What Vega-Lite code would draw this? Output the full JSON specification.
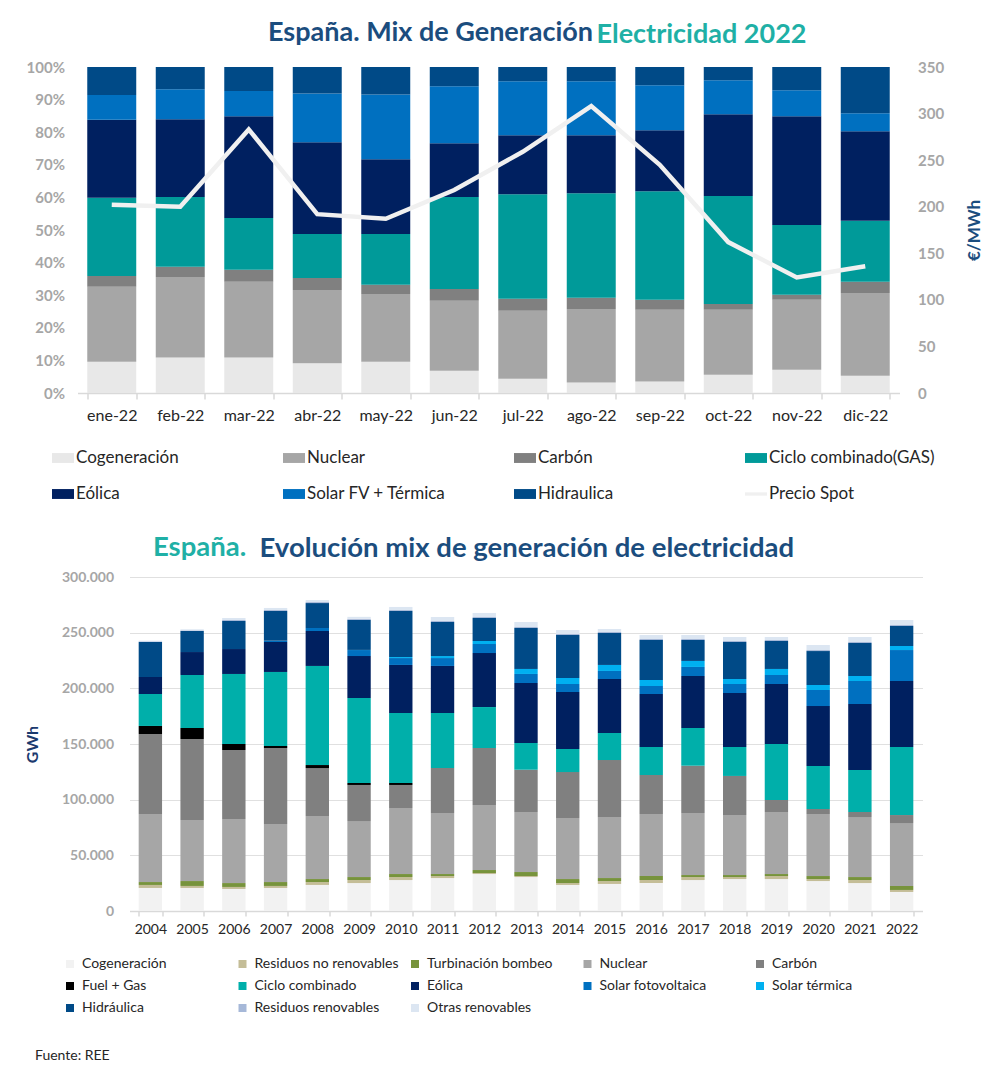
{
  "$schema": "https://vega.github.io/schema/vega-lite/v6.json",
  "background": "white",
  "padding": {"left": 0, "top": 19, "right": 0, "bottom": 0},
  "config": {
    "view": {"stroke": null},
    "font": "Lato",
    "axis": {"labelFont": "Lato", "titleFont": "Lato"},
    "legend": {"labelFont": "Lato", "titleFont": "Lato"},
    "title": {"font": "Lato"}
  },
  "datasets": {
    "orden_mensual": [
      {"fuente": "Cogeneración", "n": 1},
      {"fuente": "Nuclear", "n": 2},
      {"fuente": "Carbón", "n": 3},
      {"fuente": "Ciclo combinado(GAS)", "n": 4},
      {"fuente": "Eólica", "n": 5},
      {"fuente": "Solar FV + Térmica", "n": 6},
      {"fuente": "Hidraulica", "n": 7}
    ],
    "orden_anual": [
      {"tecnologia": "Cogeneración", "n": 1},
      {"tecnologia": "Residuos no renovables", "n": 2},
      {"tecnologia": "Turbinación bombeo", "n": 3},
      {"tecnologia": "Nuclear", "n": 4},
      {"tecnologia": "Carbón", "n": 5},
      {"tecnologia": "Fuel + Gas", "n": 6},
      {"tecnologia": "Ciclo combinado", "n": 7},
      {"tecnologia": "Eólica", "n": 8},
      {"tecnologia": "Solar fotovoltaica", "n": 9},
      {"tecnologia": "Solar térmica", "n": 10},
      {"tecnologia": "Hidráulica", "n": 11},
      {"tecnologia": "Residuos renovables", "n": 12},
      {"tecnologia": "Otras renovables", "n": 13}
    ],
    "mensual": [
      {"mes": "ene-22", "fuente": "Cogeneración", "pct": 9.6},
      {"mes": "ene-22", "fuente": "Nuclear", "pct": 23.0},
      {"mes": "ene-22", "fuente": "Carbón", "pct": 3.3},
      {"mes": "ene-22", "fuente": "Ciclo combinado(GAS)", "pct": 24.0},
      {"mes": "ene-22", "fuente": "Eólica", "pct": 23.9},
      {"mes": "ene-22", "fuente": "Solar FV + Térmica", "pct": 7.6},
      {"mes": "ene-22", "fuente": "Hidraulica", "pct": 8.6},
      {"mes": "feb-22", "fuente": "Cogeneración", "pct": 10.9},
      {"mes": "feb-22", "fuente": "Nuclear", "pct": 24.7},
      {"mes": "feb-22", "fuente": "Carbón", "pct": 3.1},
      {"mes": "feb-22", "fuente": "Ciclo combinado(GAS)", "pct": 21.4},
      {"mes": "feb-22", "fuente": "Eólica", "pct": 23.9},
      {"mes": "feb-22", "fuente": "Solar FV + Térmica", "pct": 9.2},
      {"mes": "feb-22", "fuente": "Hidraulica", "pct": 6.8},
      {"mes": "mar-22", "fuente": "Cogeneración", "pct": 10.9},
      {"mes": "mar-22", "fuente": "Nuclear", "pct": 23.2},
      {"mes": "mar-22", "fuente": "Carbón", "pct": 3.7},
      {"mes": "mar-22", "fuente": "Ciclo combinado(GAS)", "pct": 15.9},
      {"mes": "mar-22", "fuente": "Eólica", "pct": 31.2},
      {"mes": "mar-22", "fuente": "Solar FV + Térmica", "pct": 7.7},
      {"mes": "mar-22", "fuente": "Hidraulica", "pct": 7.4},
      {"mes": "abr-22", "fuente": "Cogeneración", "pct": 9.1},
      {"mes": "abr-22", "fuente": "Nuclear", "pct": 22.5},
      {"mes": "abr-22", "fuente": "Carbón", "pct": 3.7},
      {"mes": "abr-22", "fuente": "Ciclo combinado(GAS)", "pct": 13.5},
      {"mes": "abr-22", "fuente": "Eólica", "pct": 28.1},
      {"mes": "abr-22", "fuente": "Solar FV + Térmica", "pct": 15.0},
      {"mes": "abr-22", "fuente": "Hidraulica", "pct": 8.1},
      {"mes": "may-22", "fuente": "Cogeneración", "pct": 9.6},
      {"mes": "may-22", "fuente": "Nuclear", "pct": 20.8},
      {"mes": "may-22", "fuente": "Carbón", "pct": 2.8},
      {"mes": "may-22", "fuente": "Ciclo combinado(GAS)", "pct": 15.6},
      {"mes": "may-22", "fuente": "Eólica", "pct": 22.9},
      {"mes": "may-22", "fuente": "Solar FV + Térmica", "pct": 19.9},
      {"mes": "may-22", "fuente": "Hidraulica", "pct": 8.4},
      {"mes": "jun-22", "fuente": "Cogeneración", "pct": 6.8},
      {"mes": "jun-22", "fuente": "Nuclear", "pct": 21.5},
      {"mes": "jun-22", "fuente": "Carbón", "pct": 3.6},
      {"mes": "jun-22", "fuente": "Ciclo combinado(GAS)", "pct": 28.2},
      {"mes": "jun-22", "fuente": "Eólica", "pct": 16.5},
      {"mes": "jun-22", "fuente": "Solar FV + Térmica", "pct": 17.5},
      {"mes": "jun-22", "fuente": "Hidraulica", "pct": 5.9},
      {"mes": "jul-22", "fuente": "Cogeneración", "pct": 4.4},
      {"mes": "jul-22", "fuente": "Nuclear", "pct": 20.8},
      {"mes": "jul-22", "fuente": "Carbón", "pct": 3.7},
      {"mes": "jul-22", "fuente": "Ciclo combinado(GAS)", "pct": 32.1},
      {"mes": "jul-22", "fuente": "Eólica", "pct": 18.1},
      {"mes": "jul-22", "fuente": "Solar FV + Térmica", "pct": 16.5},
      {"mes": "jul-22", "fuente": "Hidraulica", "pct": 4.4},
      {"mes": "ago-22", "fuente": "Cogeneración", "pct": 3.2},
      {"mes": "ago-22", "fuente": "Nuclear", "pct": 22.6},
      {"mes": "ago-22", "fuente": "Carbón", "pct": 3.4},
      {"mes": "ago-22", "fuente": "Ciclo combinado(GAS)", "pct": 32.1},
      {"mes": "ago-22", "fuente": "Eólica", "pct": 17.8},
      {"mes": "ago-22", "fuente": "Solar FV + Térmica", "pct": 16.5},
      {"mes": "ago-22", "fuente": "Hidraulica", "pct": 4.4},
      {"mes": "sep-22", "fuente": "Cogeneración", "pct": 3.5},
      {"mes": "sep-22", "fuente": "Nuclear", "pct": 22.0},
      {"mes": "sep-22", "fuente": "Carbón", "pct": 3.1},
      {"mes": "sep-22", "fuente": "Ciclo combinado(GAS)", "pct": 33.3},
      {"mes": "sep-22", "fuente": "Eólica", "pct": 18.7},
      {"mes": "sep-22", "fuente": "Solar FV + Térmica", "pct": 13.8},
      {"mes": "sep-22", "fuente": "Hidraulica", "pct": 5.6},
      {"mes": "oct-22", "fuente": "Cogeneración", "pct": 5.6},
      {"mes": "oct-22", "fuente": "Nuclear", "pct": 19.9},
      {"mes": "oct-22", "fuente": "Carbón", "pct": 1.8},
      {"mes": "oct-22", "fuente": "Ciclo combinado(GAS)", "pct": 33.1},
      {"mes": "oct-22", "fuente": "Eólica", "pct": 25.1},
      {"mes": "oct-22", "fuente": "Solar FV + Térmica", "pct": 10.4},
      {"mes": "oct-22", "fuente": "Hidraulica", "pct": 4.1},
      {"mes": "nov-22", "fuente": "Cogeneración", "pct": 7.1},
      {"mes": "nov-22", "fuente": "Nuclear", "pct": 21.5},
      {"mes": "nov-22", "fuente": "Carbón", "pct": 1.5},
      {"mes": "nov-22", "fuente": "Ciclo combinado(GAS)", "pct": 21.4},
      {"mes": "nov-22", "fuente": "Eólica", "pct": 33.4},
      {"mes": "nov-22", "fuente": "Solar FV + Térmica", "pct": 8.0},
      {"mes": "nov-22", "fuente": "Hidraulica", "pct": 7.1},
      {"mes": "dic-22", "fuente": "Cogeneración", "pct": 5.3},
      {"mes": "dic-22", "fuente": "Nuclear", "pct": 25.4},
      {"mes": "dic-22", "fuente": "Carbón", "pct": 3.4},
      {"mes": "dic-22", "fuente": "Ciclo combinado(GAS)", "pct": 18.7},
      {"mes": "dic-22", "fuente": "Eólica", "pct": 27.5},
      {"mes": "dic-22", "fuente": "Solar FV + Térmica", "pct": 5.5},
      {"mes": "dic-22", "fuente": "Hidraulica", "pct": 14.2}
    ],
    "precio": [
      {"mes": "ene-22", "precio": 202},
      {"mes": "feb-22", "precio": 200},
      {"mes": "mar-22", "precio": 283},
      {"mes": "abr-22", "precio": 192},
      {"mes": "may-22", "precio": 187},
      {"mes": "jun-22", "precio": 218},
      {"mes": "jul-22", "precio": 259},
      {"mes": "ago-22", "precio": 308},
      {"mes": "sep-22", "precio": 245},
      {"mes": "oct-22", "precio": 162},
      {"mes": "nov-22", "precio": 124},
      {"mes": "dic-22", "precio": 136}
    ],
    "anual": [
      {"año": "2004", "tecnologia": "Cogeneración", "gwh": 20700},
      {"año": "2004", "tecnologia": "Residuos no renovables", "gwh": 2700},
      {"año": "2004", "tecnologia": "Turbinación bombeo", "gwh": 2600},
      {"año": "2004", "tecnologia": "Nuclear", "gwh": 61100},
      {"año": "2004", "tecnologia": "Carbón", "gwh": 71900},
      {"año": "2004", "tecnologia": "Fuel + Gas", "gwh": 7200},
      {"año": "2004", "tecnologia": "Ciclo combinado", "gwh": 28700},
      {"año": "2004", "tecnologia": "Eólica", "gwh": 15300},
      {"año": "2004", "tecnologia": "Hidráulica", "gwh": 31400},
      {"año": "2004", "tecnologia": "Residuos renovables", "gwh": 600},
      {"año": "2004", "tecnologia": "Otras renovables", "gwh": 600},
      {"año": "2005", "tecnologia": "Cogeneración", "gwh": 20700},
      {"año": "2005", "tecnologia": "Residuos no renovables", "gwh": 1800},
      {"año": "2005", "tecnologia": "Turbinación bombeo", "gwh": 4400},
      {"año": "2005", "tecnologia": "Nuclear", "gwh": 54800},
      {"año": "2005", "tecnologia": "Carbón", "gwh": 72800},
      {"año": "2005", "tecnologia": "Fuel + Gas", "gwh": 9900},
      {"año": "2005", "tecnologia": "Ciclo combinado", "gwh": 47600},
      {"año": "2005", "tecnologia": "Eólica", "gwh": 20600},
      {"año": "2005", "tecnologia": "Hidráulica", "gwh": 18900},
      {"año": "2005", "tecnologia": "Residuos renovables", "gwh": 600},
      {"año": "2005", "tecnologia": "Otras renovables", "gwh": 900},
      {"año": "2006", "tecnologia": "Cogeneración", "gwh": 19800},
      {"año": "2006", "tecnologia": "Residuos no renovables", "gwh": 1800},
      {"año": "2006", "tecnologia": "Turbinación bombeo", "gwh": 3500},
      {"año": "2006", "tecnologia": "Nuclear", "gwh": 57500},
      {"año": "2006", "tecnologia": "Carbón", "gwh": 62000},
      {"año": "2006", "tecnologia": "Fuel + Gas", "gwh": 5400},
      {"año": "2006", "tecnologia": "Ciclo combinado", "gwh": 62900},
      {"año": "2006", "tecnologia": "Eólica", "gwh": 22400},
      {"año": "2006", "tecnologia": "Hidráulica", "gwh": 25200},
      {"año": "2006", "tecnologia": "Residuos renovables", "gwh": 900},
      {"año": "2006", "tecnologia": "Otras renovables", "gwh": 1800},
      {"año": "2007", "tecnologia": "Cogeneración", "gwh": 20700},
      {"año": "2007", "tecnologia": "Residuos no renovables", "gwh": 1800},
      {"año": "2007", "tecnologia": "Turbinación bombeo", "gwh": 3500},
      {"año": "2007", "tecnologia": "Nuclear", "gwh": 52100},
      {"año": "2007", "tecnologia": "Carbón", "gwh": 68300},
      {"año": "2007", "tecnologia": "Fuel + Gas", "gwh": 1800},
      {"año": "2007", "tecnologia": "Ciclo combinado", "gwh": 66500},
      {"año": "2007", "tecnologia": "Eólica", "gwh": 26900},
      {"año": "2007", "tecnologia": "Solar fotovoltaica", "gwh": 1200},
      {"año": "2007", "tecnologia": "Hidráulica", "gwh": 26700},
      {"año": "2007", "tecnologia": "Residuos renovables", "gwh": 900},
      {"año": "2007", "tecnologia": "Otras renovables", "gwh": 1800},
      {"año": "2008", "tecnologia": "Cogeneración", "gwh": 23400},
      {"año": "2008", "tecnologia": "Residuos no renovables", "gwh": 2600},
      {"año": "2008", "tecnologia": "Turbinación bombeo", "gwh": 2700},
      {"año": "2008", "tecnologia": "Nuclear", "gwh": 56600},
      {"año": "2008", "tecnologia": "Carbón", "gwh": 43100},
      {"año": "2008", "tecnologia": "Fuel + Gas", "gwh": 2700},
      {"año": "2008", "tecnologia": "Ciclo combinado", "gwh": 89000},
      {"año": "2008", "tecnologia": "Eólica", "gwh": 31400},
      {"año": "2008", "tecnologia": "Solar fotovoltaica", "gwh": 2700},
      {"año": "2008", "tecnologia": "Hidráulica", "gwh": 22400},
      {"año": "2008", "tecnologia": "Residuos renovables", "gwh": 900},
      {"año": "2008", "tecnologia": "Otras renovables", "gwh": 1800},
      {"año": "2009", "tecnologia": "Cogeneración", "gwh": 25100},
      {"año": "2009", "tecnologia": "Residuos no renovables", "gwh": 2700},
      {"año": "2009", "tecnologia": "Turbinación bombeo", "gwh": 2700},
      {"año": "2009", "tecnologia": "Nuclear", "gwh": 50300},
      {"año": "2009", "tecnologia": "Carbón", "gwh": 32400},
      {"año": "2009", "tecnologia": "Fuel + Gas", "gwh": 1800},
      {"año": "2009", "tecnologia": "Ciclo combinado", "gwh": 76300},
      {"año": "2009", "tecnologia": "Eólica", "gwh": 37700},
      {"año": "2009", "tecnologia": "Solar fotovoltaica", "gwh": 5400},
      {"año": "2009", "tecnologia": "Solar térmica", "gwh": 100},
      {"año": "2009", "tecnologia": "Hidráulica", "gwh": 27000},
      {"año": "2009", "tecnologia": "Residuos renovables", "gwh": 900},
      {"año": "2009", "tecnologia": "Otras renovables", "gwh": 1800},
      {"año": "2010", "tecnologia": "Cogeneración", "gwh": 27800},
      {"año": "2010", "tecnologia": "Residuos no renovables", "gwh": 2700},
      {"año": "2010", "tecnologia": "Turbinación bombeo", "gwh": 2700},
      {"año": "2010", "tecnologia": "Nuclear", "gwh": 59300},
      {"año": "2010", "tecnologia": "Carbón", "gwh": 20700},
      {"año": "2010", "tecnologia": "Fuel + Gas", "gwh": 1800},
      {"año": "2010", "tecnologia": "Ciclo combinado", "gwh": 62800},
      {"año": "2010", "tecnologia": "Eólica", "gwh": 43200},
      {"año": "2010", "tecnologia": "Solar fotovoltaica", "gwh": 6200},
      {"año": "2010", "tecnologia": "Solar térmica", "gwh": 900},
      {"año": "2010", "tecnologia": "Hidráulica", "gwh": 41400},
      {"año": "2010", "tecnologia": "Residuos renovables", "gwh": 900},
      {"año": "2010", "tecnologia": "Otras renovables", "gwh": 2700},
      {"año": "2011", "tecnologia": "Cogeneración", "gwh": 29600},
      {"año": "2011", "tecnologia": "Residuos no renovables", "gwh": 1800},
      {"año": "2011", "tecnologia": "Turbinación bombeo", "gwh": 1800},
      {"año": "2011", "tecnologia": "Nuclear", "gwh": 54800},
      {"año": "2011", "tecnologia": "Carbón", "gwh": 40400},
      {"año": "2011", "tecnologia": "Ciclo combinado", "gwh": 49400},
      {"año": "2011", "tecnologia": "Eólica", "gwh": 42300},
      {"año": "2011", "tecnologia": "Solar fotovoltaica", "gwh": 7100},
      {"año": "2011", "tecnologia": "Solar térmica", "gwh": 1800},
      {"año": "2011", "tecnologia": "Hidráulica", "gwh": 30600},
      {"año": "2011", "tecnologia": "Residuos renovables", "gwh": 900},
      {"año": "2011", "tecnologia": "Otras renovables", "gwh": 3600},
      {"año": "2012", "tecnologia": "Cogeneración", "gwh": 33200},
      {"año": "2012", "tecnologia": "Residuos no renovables", "gwh": 900},
      {"año": "2012", "tecnologia": "Turbinación bombeo", "gwh": 2700},
      {"año": "2012", "tecnologia": "Nuclear", "gwh": 58400},
      {"año": "2012", "tecnologia": "Carbón", "gwh": 51200},
      {"año": "2012", "tecnologia": "Ciclo combinado", "gwh": 36800},
      {"año": "2012", "tecnologia": "Eólica", "gwh": 48500},
      {"año": "2012", "tecnologia": "Solar fotovoltaica", "gwh": 8100},
      {"año": "2012", "tecnologia": "Solar térmica", "gwh": 2700},
      {"año": "2012", "tecnologia": "Hidráulica", "gwh": 20700},
      {"año": "2012", "tecnologia": "Residuos renovables", "gwh": 900},
      {"año": "2012", "tecnologia": "Otras renovables", "gwh": 3600},
      {"año": "2013", "tecnologia": "Cogeneración", "gwh": 30500},
      {"año": "2013", "tecnologia": "Residuos no renovables", "gwh": 900},
      {"año": "2013", "tecnologia": "Turbinación bombeo", "gwh": 3600},
      {"año": "2013", "tecnologia": "Nuclear", "gwh": 53900},
      {"año": "2013", "tecnologia": "Carbón", "gwh": 38000},
      {"año": "2013", "tecnologia": "Ciclo combinado", "gwh": 24000},
      {"año": "2013", "tecnologia": "Eólica", "gwh": 53900},
      {"año": "2013", "tecnologia": "Solar fotovoltaica", "gwh": 8100},
      {"año": "2013", "tecnologia": "Solar térmica", "gwh": 4500},
      {"año": "2013", "tecnologia": "Hidráulica", "gwh": 36800},
      {"año": "2013", "tecnologia": "Residuos renovables", "gwh": 900},
      {"año": "2013", "tecnologia": "Otras renovables", "gwh": 4500},
      {"año": "2014", "tecnologia": "Cogeneración", "gwh": 23400},
      {"año": "2014", "tecnologia": "Residuos no renovables", "gwh": 1700},
      {"año": "2014", "tecnologia": "Turbinación bombeo", "gwh": 3600},
      {"año": "2014", "tecnologia": "Nuclear", "gwh": 54800},
      {"año": "2014", "tecnologia": "Carbón", "gwh": 41300},
      {"año": "2014", "tecnologia": "Ciclo combinado", "gwh": 20700},
      {"año": "2014", "tecnologia": "Eólica", "gwh": 51200},
      {"año": "2014", "tecnologia": "Solar fotovoltaica", "gwh": 7200},
      {"año": "2014", "tecnologia": "Solar térmica", "gwh": 5400},
      {"año": "2014", "tecnologia": "Hidráulica", "gwh": 38600},
      {"año": "2014", "tecnologia": "Residuos renovables", "gwh": 900},
      {"año": "2014", "tecnologia": "Otras renovables", "gwh": 3600},
      {"año": "2015", "tecnologia": "Cogeneración", "gwh": 24300},
      {"año": "2015", "tecnologia": "Residuos no renovables", "gwh": 2600},
      {"año": "2015", "tecnologia": "Turbinación bombeo", "gwh": 2700},
      {"año": "2015", "tecnologia": "Nuclear", "gwh": 54800},
      {"año": "2015", "tecnologia": "Carbón", "gwh": 51200},
      {"año": "2015", "tecnologia": "Ciclo combinado", "gwh": 24300},
      {"año": "2015", "tecnologia": "Eólica", "gwh": 48500},
      {"año": "2015", "tecnologia": "Solar fotovoltaica", "gwh": 7200},
      {"año": "2015", "tecnologia": "Solar térmica", "gwh": 5400},
      {"año": "2015", "tecnologia": "Hidráulica", "gwh": 28700},
      {"año": "2015", "tecnologia": "Residuos renovables", "gwh": 900},
      {"año": "2015", "tecnologia": "Otras renovables", "gwh": 2700},
      {"año": "2016", "tecnologia": "Cogeneración", "gwh": 25100},
      {"año": "2016", "tecnologia": "Residuos no renovables", "gwh": 2700},
      {"año": "2016", "tecnologia": "Turbinación bombeo", "gwh": 3600},
      {"año": "2016", "tecnologia": "Nuclear", "gwh": 55700},
      {"año": "2016", "tecnologia": "Carbón", "gwh": 35100},
      {"año": "2016", "tecnologia": "Ciclo combinado", "gwh": 25100},
      {"año": "2016", "tecnologia": "Eólica", "gwh": 47600},
      {"año": "2016", "tecnologia": "Solar fotovoltaica", "gwh": 7200},
      {"año": "2016", "tecnologia": "Solar térmica", "gwh": 5400},
      {"año": "2016", "tecnologia": "Hidráulica", "gwh": 35900},
      {"año": "2016", "tecnologia": "Residuos renovables", "gwh": 900},
      {"año": "2016", "tecnologia": "Otras renovables", "gwh": 3600},
      {"año": "2017", "tecnologia": "Cogeneración", "gwh": 27800},
      {"año": "2017", "tecnologia": "Residuos no renovables", "gwh": 2700},
      {"año": "2017", "tecnologia": "Turbinación bombeo", "gwh": 1800},
      {"año": "2017", "tecnologia": "Nuclear", "gwh": 55700},
      {"año": "2017", "tecnologia": "Carbón", "gwh": 42500},
      {"año": "2017", "tecnologia": "Ciclo combinado", "gwh": 33900},
      {"año": "2017", "tecnologia": "Eólica", "gwh": 46700},
      {"año": "2017", "tecnologia": "Solar fotovoltaica", "gwh": 8100},
      {"año": "2017", "tecnologia": "Solar térmica", "gwh": 5400},
      {"año": "2017", "tecnologia": "Hidráulica", "gwh": 18800},
      {"año": "2017", "tecnologia": "Residuos renovables", "gwh": 900},
      {"año": "2017", "tecnologia": "Otras renovables", "gwh": 3600},
      {"año": "2018", "tecnologia": "Cogeneración", "gwh": 28700},
      {"año": "2018", "tecnologia": "Residuos no renovables", "gwh": 1800},
      {"año": "2018", "tecnologia": "Turbinación bombeo", "gwh": 1800},
      {"año": "2018", "tecnologia": "Nuclear", "gwh": 53900},
      {"año": "2018", "tecnologia": "Carbón", "gwh": 35100},
      {"año": "2018", "tecnologia": "Ciclo combinado", "gwh": 26000},
      {"año": "2018", "tecnologia": "Eólica", "gwh": 48500},
      {"año": "2018", "tecnologia": "Solar fotovoltaica", "gwh": 8100},
      {"año": "2018", "tecnologia": "Solar térmica", "gwh": 4500},
      {"año": "2018", "tecnologia": "Hidráulica", "gwh": 33200},
      {"año": "2018", "tecnologia": "Residuos renovables", "gwh": 900},
      {"año": "2018", "tecnologia": "Otras renovables", "gwh": 3600},
      {"año": "2019", "tecnologia": "Cogeneración", "gwh": 28700},
      {"año": "2019", "tecnologia": "Residuos no renovables", "gwh": 2700},
      {"año": "2019", "tecnologia": "Turbinación bombeo", "gwh": 1800},
      {"año": "2019", "tecnologia": "Nuclear", "gwh": 55700},
      {"año": "2019", "tecnologia": "Carbón", "gwh": 10800},
      {"año": "2019", "tecnologia": "Ciclo combinado", "gwh": 50300},
      {"año": "2019", "tecnologia": "Eólica", "gwh": 53900},
      {"año": "2019", "tecnologia": "Solar fotovoltaica", "gwh": 8100},
      {"año": "2019", "tecnologia": "Solar térmica", "gwh": 5400},
      {"año": "2019", "tecnologia": "Hidráulica", "gwh": 25100},
      {"año": "2019", "tecnologia": "Residuos renovables", "gwh": 900},
      {"año": "2019", "tecnologia": "Otras renovables", "gwh": 2700},
      {"año": "2020", "tecnologia": "Cogeneración", "gwh": 26900},
      {"año": "2020", "tecnologia": "Residuos no renovables", "gwh": 1800},
      {"año": "2020", "tecnologia": "Turbinación bombeo", "gwh": 2700},
      {"año": "2020", "tecnologia": "Nuclear", "gwh": 55700},
      {"año": "2020", "tecnologia": "Carbón", "gwh": 4500},
      {"año": "2020", "tecnologia": "Ciclo combinado", "gwh": 38600},
      {"año": "2020", "tecnologia": "Eólica", "gwh": 53900},
      {"año": "2020", "tecnologia": "Solar fotovoltaica", "gwh": 14400},
      {"año": "2020", "tecnologia": "Solar térmica", "gwh": 4500},
      {"año": "2020", "tecnologia": "Hidráulica", "gwh": 30500},
      {"año": "2020", "tecnologia": "Residuos renovables", "gwh": 900},
      {"año": "2020", "tecnologia": "Otras renovables", "gwh": 4500},
      {"año": "2021", "tecnologia": "Cogeneración", "gwh": 25100},
      {"año": "2021", "tecnologia": "Residuos no renovables", "gwh": 2700},
      {"año": "2021", "tecnologia": "Turbinación bombeo", "gwh": 2700},
      {"año": "2021", "tecnologia": "Nuclear", "gwh": 53900},
      {"año": "2021", "tecnologia": "Carbón", "gwh": 4500},
      {"año": "2021", "tecnologia": "Ciclo combinado", "gwh": 37700},
      {"año": "2021", "tecnologia": "Eólica", "gwh": 59300},
      {"año": "2021", "tecnologia": "Solar fotovoltaica", "gwh": 20700},
      {"año": "2021", "tecnologia": "Solar térmica", "gwh": 4500},
      {"año": "2021", "tecnologia": "Hidráulica", "gwh": 29600},
      {"año": "2021", "tecnologia": "Residuos renovables", "gwh": 900},
      {"año": "2021", "tecnologia": "Otras renovables", "gwh": 4500},
      {"año": "2022", "tecnologia": "Cogeneración", "gwh": 17100},
      {"año": "2022", "tecnologia": "Residuos no renovables", "gwh": 1800},
      {"año": "2022", "tecnologia": "Turbinación bombeo", "gwh": 3600},
      {"año": "2022", "tecnologia": "Nuclear", "gwh": 56500},
      {"año": "2022", "tecnologia": "Carbón", "gwh": 7200},
      {"año": "2022", "tecnologia": "Ciclo combinado", "gwh": 61100},
      {"año": "2022", "tecnologia": "Eólica", "gwh": 59300},
      {"año": "2022", "tecnologia": "Solar fotovoltaica", "gwh": 27800},
      {"año": "2022", "tecnologia": "Solar térmica", "gwh": 3600},
      {"año": "2022", "tecnologia": "Hidráulica", "gwh": 18000},
      {"año": "2022", "tecnologia": "Residuos renovables", "gwh": 900},
      {"año": "2022", "tecnologia": "Otras renovables", "gwh": 4500}
    ]
  },
  "title": {"text": "Fuente: REE", "orient": "bottom", "anchor": "start", "frame": "group", "dx": 35, "offset": 34, "fontSize": 14, "fontWeight": "normal", "color": "#262626"},
  "spacing": 31,
  "resolve": {"scale": {"color": "independent"}, "legend": {"color": "independent"}},
  "vconcat": [
    {
      "title": {"text": "España. Mix de Generación", "anchor": "start", "frame": "group", "dx": 268, "dy": 26, "offset": 0, "fontSize": 27, "fontWeight": "bold", "color": "#1b4d7e"},
      "spacing": 23.5,
      "hconcat": [
        {"width": 2, "height": 2, "data": {"values": [{"s": 0}]}, "mark": {"type": "point", "opacity": 0, "size": 1}},
        {
          "width": 822,
          "height": 326,
          "title": {"text": "Electricidad 2022", "anchor": "start", "frame": "group", "dx": 519, "offset": 11, "fontSize": 27, "fontWeight": "bold", "color": "#1fb0a6"},
          "resolve": {"scale": {"y": "independent"}},
          "layer": [
            {
              "data": {"name": "mensual"},
              "transform": [{"lookup": "fuente", "from": {"data": {"name": "orden_mensual"}, "key": "fuente", "fields": ["n"]}}],
              "mark": {"type": "bar"},
              "encoding": {
                "x": {"field": "mes", "type": "ordinal", "sort": ["ene-22","feb-22","mar-22","abr-22","may-22","jun-22","jul-22","ago-22","sep-22","oct-22","nov-22","dic-22"],
                  "scale": {"paddingInner": 0.285, "paddingOuter": 0.1425},
                  "axis": {"title": null, "labelAngle": 0, "labelFontSize": 16, "labelColor": "#262626", "labelPadding": 8, "domainColor": "#d9d9d9", "domainWidth": 1.5, "tickColor": "#d9d9d9", "tickWidth": 1.5, "tickSize": 6, "tickBand": "extent"}},
                "y": {"field": "pct", "type": "quantitative", "stack": "normalize",
                  "axis": {"title": null, "values": [0,0.1,0.2,0.3,0.4,0.5,0.6,0.7,0.8,0.9,1], "format": ".0%", "grid": false, "domain": false, "ticks": false, "labelColor": "#a6a6a6", "labelFontWeight": "bold", "labelFontSize": 15, "labelPadding": 13}},
                "order": {"field": "n", "type": "quantitative", "sort": "ascending"},
                "color": {"field": "fuente", "type": "nominal",
                  "scale": {"domain": ["Cogeneración","Nuclear","Carbón","Ciclo combinado(GAS)","Eólica","Solar FV + Térmica","Hidraulica","Precio Spot"],
                            "range": ["#e8e8e8","#a6a6a6","#808080","#009a99","#002060","#0070c0","#004a87","#f0f0f0"]},
                  "legend": {"title": null, "orient": "none", "legendX": 52, "legendY": 380, "columns": 4, "direction": "horizontal", "gridAlign": "all", "columnPadding": 41, "rowPadding": 17, "labelLimit": 300,
                    "labelFontSize": 17, "labelColor": "#262626", "labelOffset": 2, "symbolSize": 484, "symbolType": "M-1,-0.45H1V0.45H-1Z", "symbolStrokeWidth": 0,
                    "encode": {"symbols": {"update": {"shape": {"signal": "datum.value === 'Precio Spot' ? 'M-1,-0.15H1V0.15H-1Z' : 'M-1,-0.45H1V0.45H-1Z'"}, "fill": {"scale": "color", "field": "value"}, "strokeWidth": {"value": 0}, "opacity": {"value": 1}}}}}}
              }
            },
            {
              "data": {"name": "precio"},
              "mark": {"type": "line", "strokeWidth": 4.5},
              "encoding": {
                "x": {"field": "mes", "type": "ordinal", "sort": ["ene-22","feb-22","mar-22","abr-22","may-22","jun-22","jul-22","ago-22","sep-22","oct-22","nov-22","dic-22"]},
                "y": {"field": "precio", "type": "quantitative", "scale": {"domain": [0, 350]},
                  "axis": {"orient": "right", "title": "€/MWh", "titleAngle": 270, "titleColor": "#1b4d7e", "titleFontSize": 17, "titleFontWeight": "bold", "titlePadding": 40, "values": [0,50,100,150,200,250,300,350], "grid": false, "domain": false, "ticks": false, "labelColor": "#a6a6a6", "labelFontWeight": "bold", "labelFontSize": 15, "labelPadding": 18}},
                "color": {"datum": "Precio Spot", "type": "nominal"}
              }
            }
          ]
        }
      ]
    },
    {
      "title": {"text": "España.", "anchor": "start", "frame": "group", "dx": 153, "dy": 26.5, "offset": 0, "fontSize": 27.5, "fontWeight": "bold", "color": "#1fb0a6"},
      "spacing": 21.5,
      "hconcat": [
        {"width": 2, "height": 2, "data": {"values": [{"s": 0}]}, "mark": {"type": "point", "opacity": 0, "size": 1}},
        {
          "width": 793,
          "height": 334,
          "title": {"text": "Evolución mix de generación de electricidad", "anchor": "start", "frame": "group", "dx": 130, "offset": 8, "fontSize": 27.5, "fontWeight": "bold", "color": "#1b4d7e"},
          "data": {"name": "anual"},
          "transform": [{"lookup": "tecnologia", "from": {"data": {"name": "orden_anual"}, "key": "tecnologia", "fields": ["n"]}}],
          "mark": {"type": "bar"},
          "encoding": {
            "x": {"field": "año", "type": "ordinal", "scale": {"paddingInner": 0.44, "paddingOuter": 0.22},
              "axis": {"title": null, "labelAngle": 0, "labelFontSize": 14, "labelColor": "#262626", "labelPadding": 6, "domainColor": "#d9d9d9", "domainWidth": 1.5, "tickColor": "#d9d9d9", "tickWidth": 1.5, "tickSize": 5, "tickBand": "extent"}},
            "y": {"field": "gwh", "type": "quantitative", "scale": {"domain": [0, 300000]},
              "axis": {"title": "GWh", "titleColor": "#1b3a6e", "titleFontSize": 16, "titleFontWeight": "bold", "titlePadding": 21, "values": [0,50000,100000,150000,200000,250000,300000], "labelExpr": "replace(format(datum.value, ',d'), ',', '.')", "grid": true, "gridColor": "#e0e0e0", "gridWidth": 1.2, "domain": false, "ticks": false, "labelColor": "#a6a6a6", "labelFontWeight": "bold", "labelFontSize": 14, "labelPadding": 16}},
            "order": {"field": "n", "type": "quantitative", "sort": "ascending"},
            "color": {"field": "tecnologia", "type": "nominal",
              "scale": {"domain": ["Cogeneración","Residuos no renovables","Turbinación bombeo","Nuclear","Carbón","Fuel + Gas","Ciclo combinado","Eólica","Solar fotovoltaica","Solar térmica","Hidráulica","Residuos renovables","Otras renovables"],
                        "range": ["#f2f2f2","#c4bd97","#77933c","#a6a6a6","#808080","#000000","#00afaa","#002060","#0070c0","#00b0f0","#004a87","#a6b8d8","#dce6f2"]},
              "legend": {"title": null, "orient": "none", "legendX": 63, "legendY": 380, "columns": 5, "direction": "horizontal", "gridAlign": "all", "columnPadding": 8.5, "rowPadding": 8, "labelLimit": 300,
                "labelFontSize": 14, "labelColor": "#262626", "labelOffset": 5, "symbolType": "square", "symbolSize": 64, "symbolStrokeWidth": 0}}
          }
        }
      ]
    }
  ]
}
